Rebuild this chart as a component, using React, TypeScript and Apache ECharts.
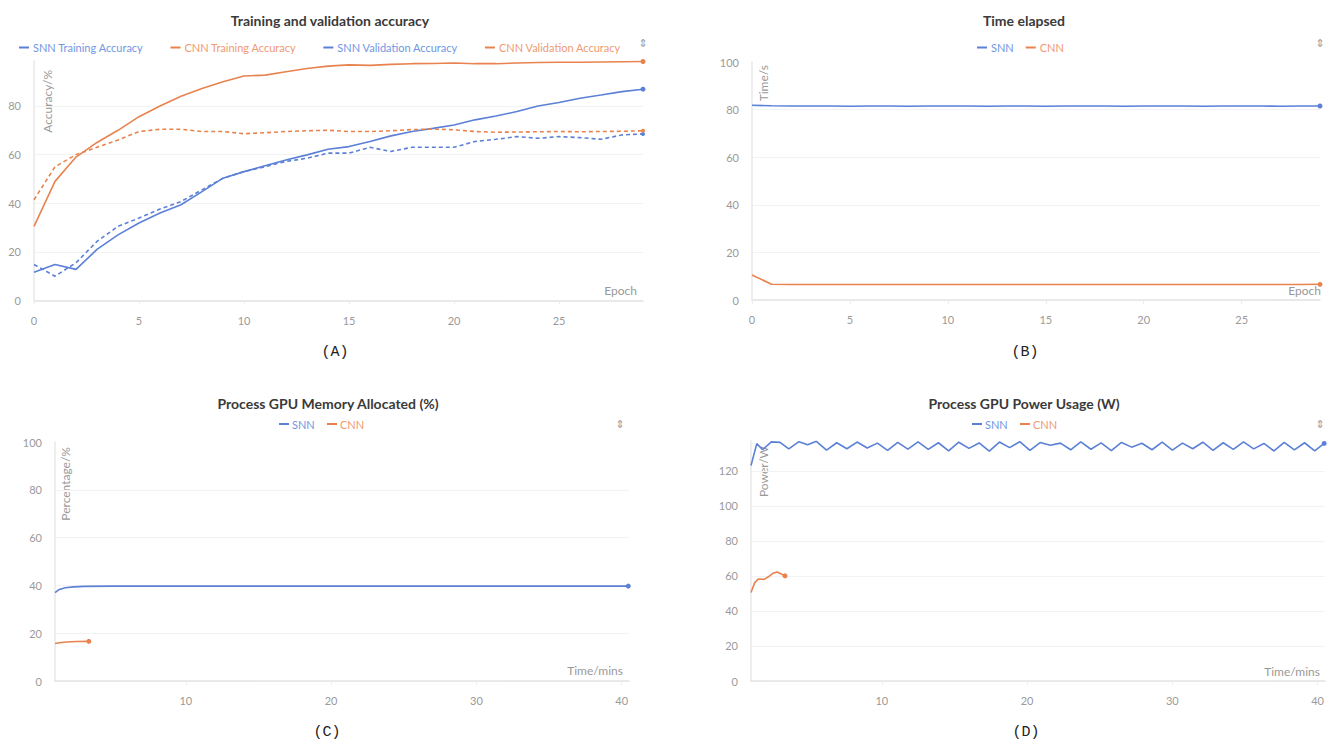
import React, { useEffect, useRef } from "react";
import * as echarts from "echarts";

const BLUE = "#5b80d6";
const ORANGE = "#e8834f";
const BLUE_TXT = "#7197e3";
const ORANGE_TXT = "#ef9a72";

const epochs = [0,1,2,3,4,5,6,7,8,9,10,11,12,13,14,15,16,17,18,19,20,21,22,23,24,25,26,27,28,29];

const snnTrainAcc = [11.6,14.8,12.8,21,27,31.9,36,39.4,44.8,50.3,53,55.4,57.8,59.9,62.2,63.3,65.4,67.7,69.5,70.8,72.2,74.3,75.9,77.7,80,81.4,83.2,84.5,85.9,86.9];
const cnnTrainAcc = [30.5,49,59,65,70,75.6,80,84,87.2,90,92.3,92.7,94.1,95.4,96.4,96.9,96.7,97.1,97.4,97.5,97.7,97.4,97.4,97.7,97.9,98.0,98.0,98.1,98.2,98.3];
const snnValAcc = [14.8,10,15.5,24.3,30.5,33.9,37.6,40.7,45.5,50.3,53,55,57.2,58.5,60.6,60.6,63,61.3,63,63,63,65.4,66.3,67.4,66.7,67.4,67,66.3,68.1,68.5];
const cnnValAcc = [41.4,55,60,63,66,69.5,70.4,70.4,69.5,69.5,68.6,69,69.5,69.8,70,69.5,69.5,69.8,70.3,70.5,70.2,69.5,69.2,69.3,69.4,69.5,69.4,69.5,69.6,69.8];

const snnTime = [81.8,81.6,81.5,81.5,81.5,81.4,81.5,81.5,81.4,81.5,81.5,81.5,81.4,81.5,81.5,81.4,81.5,81.5,81.5,81.4,81.5,81.5,81.5,81.4,81.5,81.5,81.5,81.4,81.5,81.5];
const cnnTime = [10.5,6.6,6.5,6.5,6.5,6.5,6.5,6.5,6.5,6.5,6.5,6.5,6.5,6.5,6.5,6.5,6.5,6.5,6.5,6.5,6.5,6.5,6.5,6.5,6.5,6.5,6.5,6.5,6.5,6.6];

// Process GPU memory allocated (%): [minutes, value]
const snnMemory = [[1.0,37.0],[1.3,38.3],[1.7,39.0],[2.3,39.4],[3.0,39.6],[5.0,39.7],[10,39.7],[20,39.7],[30,39.7],[40.45,39.7]];
const cnnMemory = [[1.0,15.7],[1.3,16.0],[1.8,16.3],[2.5,16.5],[3.33,16.6]];

// Process GPU power usage (W): [minutes, value]
const snnPower = [
  [1.0,123.0],[1.4,135.5],[1.8,132.0],[2.4,136.5],[3.0,136.2],[3.6,132.5],[4.3,136.6],[4.9,134.8],
  [5.5,136.8],[6.2,131.8],[6.9,136.0],[7.6,132.6],[8.3,136.4],[9.0,133.0],[9.7,135.8],[10.4,131.6],
  [11.1,136.2],[11.8,132.4],[12.5,136.5],[13.2,132.2],[13.9,136.0],[14.6,131.4],[15.3,136.3],[16.0,132.8],
  [16.7,135.9],[17.4,131.2],[18.1,136.4],[18.8,133.2],[19.5,136.6],[20.2,131.6],[20.9,136.1],[21.6,134.6],
  [22.3,135.8],[23.0,132.0],[23.7,136.5],[24.4,132.3],[25.1,135.9],[25.8,131.5],[26.5,136.2],[27.2,133.5],
  [27.9,135.7],[28.6,132.0],[29.3,136.4],[30.0,131.8],[30.7,135.8],[31.4,132.6],[32.1,136.3],[32.8,131.7],
  [33.5,136.0],[34.2,132.2],[34.9,136.5],[35.6,132.5],[36.3,135.6],[37.0,131.3],[37.7,136.2],[38.4,131.9],
  [39.1,136.0],[39.8,131.4],[40.45,135.6]
];
const cnnPower = [[1.0,50.5],[1.25,56],[1.5,58.2],[1.9,58],[2.2,59.5],[2.5,61.5],[2.8,62.2],[3.05,61.2],[3.34,60.0]];

const minuteTicks = [10, 20, 30, 40];

const FONT = "Lato";
const LABEL_COLOR = "#9a9a9a";

function withEnd(points: any[], size = 5) {
  return points.map((p, i) =>
    i === points.length - 1 ? { value: p, symbol: "circle", symbolSize: size } : p
  );
}

function lineSeries(name: string, points: any[], color: string, idx: number, dashed = false, symbolSize = 5) {
  return {
    name,
    type: "line",
    xAxisIndex: idx,
    yAxisIndex: idx,
    data: withEnd(points, symbolSize),
    symbol: "none",
    showSymbol: true,
    lineStyle: { color, width: 1.6, type: dashed ? [4, 3] : "solid" },
    itemStyle: { color },
    z: 3,
  };
}

function xAxis(idx: number, min: number, max: number, opts: any = {}, showMax = false) {
  return {
    gridIndex: idx,
    type: "value",
    min,
    max,
    ...opts,
    axisLine: { show: true, lineStyle: { color: "#e4e4e4", width: 1.5 } },
    axisTick: { show: true, length: 4, lineStyle: { color: "#ececec" }, ...(opts.axisTick || {}) },
    axisLabel: { color: LABEL_COLOR, fontFamily: FONT, fontSize: 11, margin: 14, showMinLabel: true, showMaxLabel: showMax, ...(opts.axisLabel || {}) },
    splitLine: { show: false },
  };
}

function yAxis(idx: number, max: number) {
  return {
    gridIndex: idx,
    type: "value",
    min: 0,
    max,
    interval: 20,
    axisLine: { show: true, lineStyle: { color: "#e8e8e8", width: 1.5 } },
    axisTick: { show: false },
    axisLabel: { color: LABEL_COLOR, fontFamily: FONT, fontSize: 11, margin: 13, showMaxLabel: max === 100 },
    splitLine: { show: true, showMaxLine: false, lineStyle: { color: "#f3f3f3", width: 1 } },
  };
}

function text(x: number, y: number, t: string, style: any, rotation = 0) {
  return {
    type: "text",
    x,
    y,
    rotation,
    silent: true,
    style: { text: t, ...style },
  };
}

function legend(left: number, top: number, items: { name: string; color: string }[], gap: number) {
  return {
    left,
    top,
    itemWidth: 10,
    itemHeight: 2,
    itemGap: gap,
    icon: "rect",
    selectedMode: false,
    textStyle: { fontFamily: FONT, fontSize: 11, padding: [0, 0, 0, -1] },
    data: items.map((it) => ({ name: it.name, textStyle: { color: it.color } })),
  };
}

export default function App() {
  const ref = useRef<HTMLDivElement>(null);
  useEffect(() => {
    if (!ref.current) return;
    const chart = echarts.init(ref.current, null, { renderer: "svg" });

    const titleStyle = { font: `bold 14px ${FONT}`, fill: "#3a3a3a", align: "center", verticalAlign: "middle" };
    const nameStyle = { font: `12px ${FONT}`, fill: "#999", verticalAlign: "middle" };
    const capStyle = { font: `15px 'Liberation Mono'`, fill: "#222", align: "center", verticalAlign: "middle" };
    const iconStyle = { font: `11px 'DejaVu Sans'`, fill: "#9a9a9a", align: "center", verticalAlign: "middle" };
    const legTxt = (c: string) => ({ font: `11px ${FONT}`, fill: c, verticalAlign: "middle" });

    const option: any = {
      animation: false,
      backgroundColor: "#ffffff",
      grid: [
        { left: 34, top: 61, width: 609, height: 239.5 },
        { left: 752, top: 62, width: 568, height: 238 },
        { left: 55, top: 442, width: 574, height: 239 },
        { left: 751, top: 441, width: 575, height: 240 },
      ],
      xAxis: [
        xAxis(0, 0, 29, { interval: 5 }),
        xAxis(1, 0, 29, { interval: 5 }),
        xAxis(2, 1, 40.5, { axisLabel: { customValues: minuteTicks }, axisTick: { customValues: minuteTicks } }, true),
        xAxis(3, 1, 40.5, { axisLabel: { customValues: minuteTicks }, axisTick: { customValues: minuteTicks } }, true),
      ],
      yAxis: [yAxis(0, 98.5), yAxis(1, 100), yAxis(2, 100), yAxis(3, 137)],
      legend: [
        legend(14, 37, [
          { name: "SNN Training Accuracy", color: BLUE_TXT },
          { name: "CNN Training Accuracy", color: ORANGE_TXT },
          { name: "SNN Validation Accuracy", color: BLUE_TXT },
          { name: "CNN Validation Accuracy", color: ORANGE_TXT },
        ], 27),
        legend(972, 37, [
          { name: "SNN", color: BLUE_TXT },
          { name: "CNN", color: ORANGE_TXT },
        ], 12),
      ],
      series: [
        lineSeries("SNN Training Accuracy", epochs.map((e, i) => [e, snnTrainAcc[i]]), BLUE, 0),
        lineSeries("CNN Training Accuracy", epochs.map((e, i) => [e, cnnTrainAcc[i]]), ORANGE, 0),
        lineSeries("SNN Validation Accuracy", epochs.map((e, i) => [e, snnValAcc[i]]), BLUE, 0, true, 4),
        lineSeries("CNN Validation Accuracy", epochs.map((e, i) => [e, cnnValAcc[i]]), ORANGE, 0, true, 4),
        lineSeries("SNN", epochs.map((e, i) => [e, snnTime[i]]), BLUE, 1),
        lineSeries("CNN", epochs.map((e, i) => [e, cnnTime[i]]), ORANGE, 1),
        lineSeries("SNN", snnMemory, BLUE, 2),
        lineSeries("CNN", cnnMemory, ORANGE, 2),
        lineSeries("SNN", snnPower, BLUE, 3),
        lineSeries("CNN", cnnPower, ORANGE, 3),
      ],
      graphic: [
        text(330, 20, "Training and validation accuracy", titleStyle),
        text(1024, 20, "Time elapsed", titleStyle),
        text(328, 403, "Process GPU Memory Allocated (%)", titleStyle),
        text(1024, 403, "Process GPU Power Usage (W)", titleStyle),
        { type: "rect", x: 279, y: 423, shape: { width: 10, height: 2 }, style: { fill: BLUE }, silent: true },
        text(292, 424, "SNN", legTxt(BLUE_TXT)),
        { type: "rect", x: 327, y: 423, shape: { width: 10, height: 2 }, style: { fill: ORANGE }, silent: true },
        text(340, 424, "CNN", legTxt(ORANGE_TXT)),
        { type: "rect", x: 972, y: 423, shape: { width: 10, height: 2 }, style: { fill: BLUE }, silent: true },
        text(985, 424, "SNN", legTxt(BLUE_TXT)),
        { type: "rect", x: 1020, y: 423, shape: { width: 10, height: 2 }, style: { fill: ORANGE }, silent: true },
        text(1033, 424, "CNN", legTxt(ORANGE_TXT)),
        text(643, 43, "⇕", iconStyle),
        text(1320, 43, "⇕", iconStyle),
        text(620, 424, "⇕", iconStyle),
        text(1320, 424, "⇕", iconStyle),
        text(47, 70, "Accuracy/%", { ...nameStyle, align: "right" }, Math.PI / 2),
        text(637, 290, "Epoch", { ...nameStyle, align: "right" }),
        text(763, 65, "Time/s", { ...nameStyle, align: "right" }, Math.PI / 2),
        text(1321, 290, "Epoch", { ...nameStyle, align: "right" }),
        text(65, 447, "Percentage/%", { ...nameStyle, align: "right" }, Math.PI / 2),
        text(623, 670, "Time/mins", { ...nameStyle, align: "right" }),
        text(763, 446, "Power/W", { ...nameStyle, align: "right" }, Math.PI / 2),
        text(1320, 671, "Time/mins", { ...nameStyle, align: "right" }),
        text(335, 352, "(A)", capStyle),
        text(1025, 352, "(B)", capStyle),
        text(327, 732, "(C)", capStyle),
        text(1026, 732, "(D)", capStyle),
      ],
    };
    chart.setOption(option);
    return () => chart.dispose();
  }, []);
  return <div ref={ref} style={{ position: "fixed", left: 0, top: 0, width: 1327, height: 745, background: "#fff" }} />;
}
